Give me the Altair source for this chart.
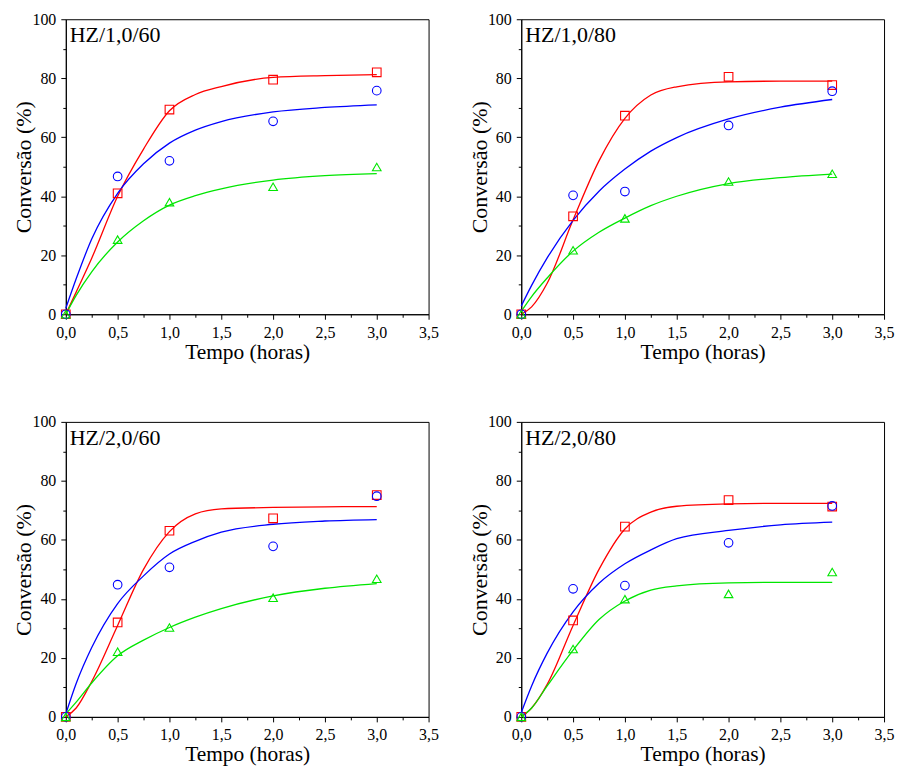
import altair as alt
import pandas as pd

panel_names = ["HZ/1,0/60", "HZ/1,0/80", "HZ/2,0/60", "HZ/2,0/80"]
series_names = ["Série A", "Série B", "Série C"]
series_colors = ["#ff0000", "#0000ff", "#00e600"]
series_shapes = ["square", "circle", "triangle-up"]
series_sizes = [75, 75, 150]

t_points = [0, 0.5, 1.0, 2.0, 3.0]
t_curve = [0, 0.1, 0.25, 0.5, 0.75, 1.0, 1.25, 1.5, 2.0, 2.5, 3.0]

# measured points (red squares, blue circles, green triangles)
p1_red = [0, 41.0, 69.4, 79.5, 82.0]
p1_blue = [0, 46.7, 52.0, 65.4, 75.8]
p1_green = [0, 25.3, 38.0, 43.2, 49.9]
p2_red = [0, 33.2, 67.3, 80.5, 77.7]
p2_blue = [0, 40.3, 41.6, 64.0, 75.6]
p2_green = [0, 21.7, 32.5, 45.0, 47.6]
p3_red = [0, 32.0, 63.1, 67.3, 75.2]
p3_blue = [0, 44.8, 50.7, 57.8, 74.8]
p3_green = [0, 22.1, 30.3, 40.4, 46.8]
p4_red = [0, 32.7, 64.5, 73.5, 71.3]
p4_blue = [0, 43.4, 44.5, 59.0, 71.5]
p4_green = [0, 23.0, 39.9, 41.7, 49.1]

# fitted curves
c1_red = [0, 7.5, 19, 40, 56, 69, 74.5, 77.2, 80.3, 80.9, 81.2]
c1_blue = [2, 12, 25.5, 41, 51, 58, 62.4, 65.3, 68.6, 70.1, 71]
c1_green = [0, 6.4, 14.4, 24.5, 31.7, 37, 40.2, 42.5, 45.5, 47, 47.7]
c2_red = [0, 2.5, 10.5, 32, 52, 66.4, 74.3, 77.1, 78.8, 79, 79]
c2_blue = [2.8, 9.8, 19.1, 31.8, 41.7, 49.2, 55.3, 59.9, 66.2, 70.2, 72.8]
c2_green = [1, 6, 12.3, 21.4, 27.8, 32.6, 36.8, 40, 44.3, 46.3, 47.5]
c3_red = [0, 3, 12, 31, 50, 62.8, 68.8, 70.5, 71, 71.2, 71.3]
c3_blue = [1, 11.3, 23.5, 38.4, 47.8, 55.2, 59.5, 62.6, 65.3, 66.4, 66.9]
c3_green = [1, 5, 11.5, 20.7, 26, 30.3, 33.8, 36.7, 41, 43.6, 45.2]
c4_red = [0, 3, 11, 31, 50, 63.7, 69.4, 71.4, 72.2, 72.4, 72.4]
c4_blue = [1.5, 10.5, 21.6, 35.6, 45.3, 51.9, 56.6, 60.4, 63.2, 65.1, 66]
c4_green = [0, 3, 10.5, 22.6, 33, 39.3, 43, 44.4, 45.4, 45.6, 45.6]

points = [
    [p1_red, p1_blue, p1_green],
    [p2_red, p2_blue, p2_green],
    [p3_red, p3_blue, p3_green],
    [p4_red, p4_blue, p4_green],
]
curves = [
    [c1_red, c1_blue, c1_green],
    [c2_red, c2_blue, c2_green],
    [c3_red, c3_blue, c3_green],
    [c4_red, c4_blue, c4_green],
]

x_ticks = [i * 0.25 for i in range(15)]
y_ticks = [i * 10 for i in range(11)]

FONT = "Liberation Serif, Times New Roman, serif"

x_axis = alt.Axis(
    values=x_ticks,
    labelExpr="(datum.value * 2) % 1 == 0 ? replace(format(datum.value, '.1f'), '.', ',') : ''",
    tickSize={"condition": {"test": "(datum.value * 2) % 1 != 0", "value": 3}, "value": 5},
    labelFlush=False,
    labelOverlap=False,
    labelPadding=5,
    titlePadding=1,
    titleFontSize=21.5,
)
y_axis = alt.Axis(
    values=y_ticks,
    labelExpr="datum.value % 20 == 0 ? datum.label : ''",
    tickSize={"condition": {"test": "datum.value % 20 != 0", "value": 3}, "value": 5},
    labelFlush=False,
    labelOverlap=False,
    labelPadding=5,
    titlePadding=-4,
    titleFontSize=22,
)

color = alt.Color(
    "serie:N",
    scale=alt.Scale(domain=series_names, range=series_colors),
    legend=None,
)
shape = alt.Shape(
    "serie:N",
    scale=alt.Scale(domain=series_names, range=series_shapes),
    legend=None,
)
size = alt.Size(
    "serie:N",
    scale=alt.Scale(domain=series_names, range=series_sizes),
    legend=None,
)


def make_panel(name, pts, crv):
    prow = []
    for s, vals in zip(series_names, pts):
        for t, v in zip(t_points, vals):
            prow.append({"t": t, "v": v, "serie": s})
    crow = []
    for s, vals in zip(series_names, crv):
        for t, v in zip(t_curve, vals):
            crow.append({"t": t, "v": v, "serie": s})
    pdf = pd.DataFrame(prow)
    cdf = pd.DataFrame(crow)
    x = alt.X("t:Q", scale=alt.Scale(domain=[0, 3.5], nice=False, zero=False),
              axis=x_axis, title="Tempo (horas)")
    y = alt.Y("v:Q", scale=alt.Scale(domain=[0, 100], nice=False),
              axis=y_axis, title="Conversão (%)")
    lines = alt.Chart(cdf).mark_line(interpolate="monotone", strokeWidth=1.3).encode(
        x=x, y=y, color=color, detail="serie:N"
    )
    marks = alt.Chart(pdf).mark_point(filled=False, strokeWidth=1.1, opacity=1).encode(
        x=x, y=y, color=color, shape=shape, size=size
    )
    label = alt.Chart(pd.DataFrame({"label": [name]})).mark_text(
        align="left", baseline="top", font=FONT, fontSize=22, color="black"
    ).encode(x=alt.value(4), y=alt.value(6), text="label:N")
    return alt.layer(lines, marks, label).properties(width=364, height=296)


panels = [make_panel(n, p, c) for n, p, c in zip(panel_names, points, curves)]

chart = alt.concat(
    *panels, columns=2, spacing={"row": 108, "column": 93}, bounds="flush"
).configure_axis(
    labelFont=FONT,
    titleFont=FONT,
    labelFontSize=16,
    titleFontWeight="normal",
    labelColor="black",
    titleColor="black",
    domainColor="black",
    tickColor="black",
    domainWidth=1,
    tickWidth=1,
    grid=False,
).configure_view(
    stroke="black", strokeWidth=1
).properties(
    background="white",
    padding={"left": 4, "top": 1, "right": 0, "bottom": 0},
)

chart.save("out.html", embed_options={"renderer": "svg", "actions": False})
